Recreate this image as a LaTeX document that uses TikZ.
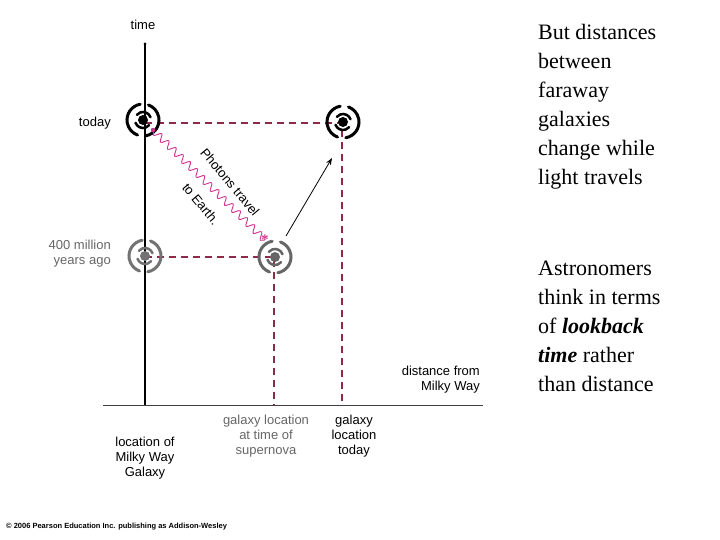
\documentclass[tikz,border=0pt]{standalone}
\usepackage{fontspec}
\setmainfont{Liberation Serif}
\newfontfamily\lab{Liberation Sans}
\usetikzlibrary{decorations.pathmorphing,arrows.meta}
\definecolor{dred}{HTML}{8E2A48}
\definecolor{mag}{HTML}{D0308F}
\tikzset{
  x=1pt,y=-1pt,
  guide/.style={dred,dashed,line width=1.6pt,dash pattern=on 7pt off 5pt},
  lbl/.style={font=\lab\fontsize{13}{15}\selectfont,align=center,inner sep=0pt},
  rt/.style={font=\fontsize{22}{29}\selectfont,align=left,anchor=north west,inner sep=0pt},
  pics/galaxy/.style={code={
    \fill (0,0) circle (5);
    \draw[line width=3pt,line cap=round] (0,0) ++(-100:16) arc[start angle=-100,end angle=-250,radius=16];
    \draw[line width=3pt,line cap=round] (0,0) ++(80:16) arc[start angle=80,end angle=-70,radius=16];
    \draw[line width=2.5pt,line cap=round] (0,0) ++(-20:8) arc[start angle=-20,end angle=-140,radius=8];
    \draw[line width=2.5pt,line cap=round] (0,0) ++(160:8) arc[start angle=160,end angle=40,radius=8];
  }}
}
\begin{document}
\begin{tikzpicture}
\useasboundingbox (0,0) rectangle (720,540);
\coordinate (top) at (145,44);
\coordinate (bot) at (145,405);
\coordinate (ax0) at (103,405);
\coordinate (ax1) at (483,405);
\draw[line width=1.6pt] (top) -- (bot);
\fill (top) circle (1.5);
\draw[line width=1pt,black!75] (ax0) -- (ax1);
\node[lbl] (time) at (143,25) {time};
% guides
\coordinate (g1) at (145,123); \coordinate (g2) at (342,123);
\coordinate (g3) at (145,257); \coordinate (g4) at (274,257);
\coordinate (b2) at (342,405); \coordinate (b4) at (274,405);
\draw[guide] (g1) -- (g2) -- (b2);
\draw[guide] (g3) -- (g4) -- (b4);
% galaxies
\pic[black] at (143,120) {galaxy};
\pic[black] at (343,122) {galaxy};
\pic[black!55] at (145,256) {galaxy};
\pic[black!60] at (275,257) {galaxy};
% photons
\coordinate (sn) at (265,240);
\coordinate (earth) at (153,130);
\draw[mag,line width=0.9pt,decorate,decoration={snake,amplitude=3.5pt,segment length=10pt}] (sn) -- (earth);
\fill[mag] (earth) circle (2.2);
\node[mag,font=\bfseries\Large,inner sep=0pt] (star) at (sn) {*};
\coordinate (a0) at (286,236); \coordinate (a1) at (332,158);
\draw[-{Stealth[length=7pt]},line width=0.8pt] (a0) -- (a1);
\node[lbl,rotate=-50] (pt) at (230,182) {Photons travel};
\node[lbl,rotate=-50] (te) at (201,204) {to Earth.};
% labels
\node[lbl,anchor=east] (today) at (111,123) {today};
\node[lbl,black!60,align=right,anchor=east] (mya) at (111,254) {400 million\\years ago};
\node[lbl,align=right,anchor=east] (dist) at (480,380) {distance from\\Milky Way};
\node[lbl] (mw) at (145,458) {location of\\Milky Way\\Galaxy};
\node[lbl,black!60] (gs) at (266,436) {galaxy location\\at time of\\supernova};
\node[lbl] (gt) at (354,436) {galaxy\\location\\today};
\node[font=\lab\fontsize{7.5}{8}\selectfont,anchor=west,inner sep=0pt] (cr) at (6,527) {\textbf{\textcopyright\ 2006 Pearson Education Inc. publishing as Addison-Wesley}};
% right text
\node[rt] (t1) at (538,24) {But distances\\between\\faraway\\galaxies\\change while\\light travels};
\node[rt] (t2) at (538,261) {Astronomers\\think in terms\\of \textbf{\textit{lookback}}\\\textbf{\textit{time}} rather\\than distance};
\end{tikzpicture}
\end{document}
